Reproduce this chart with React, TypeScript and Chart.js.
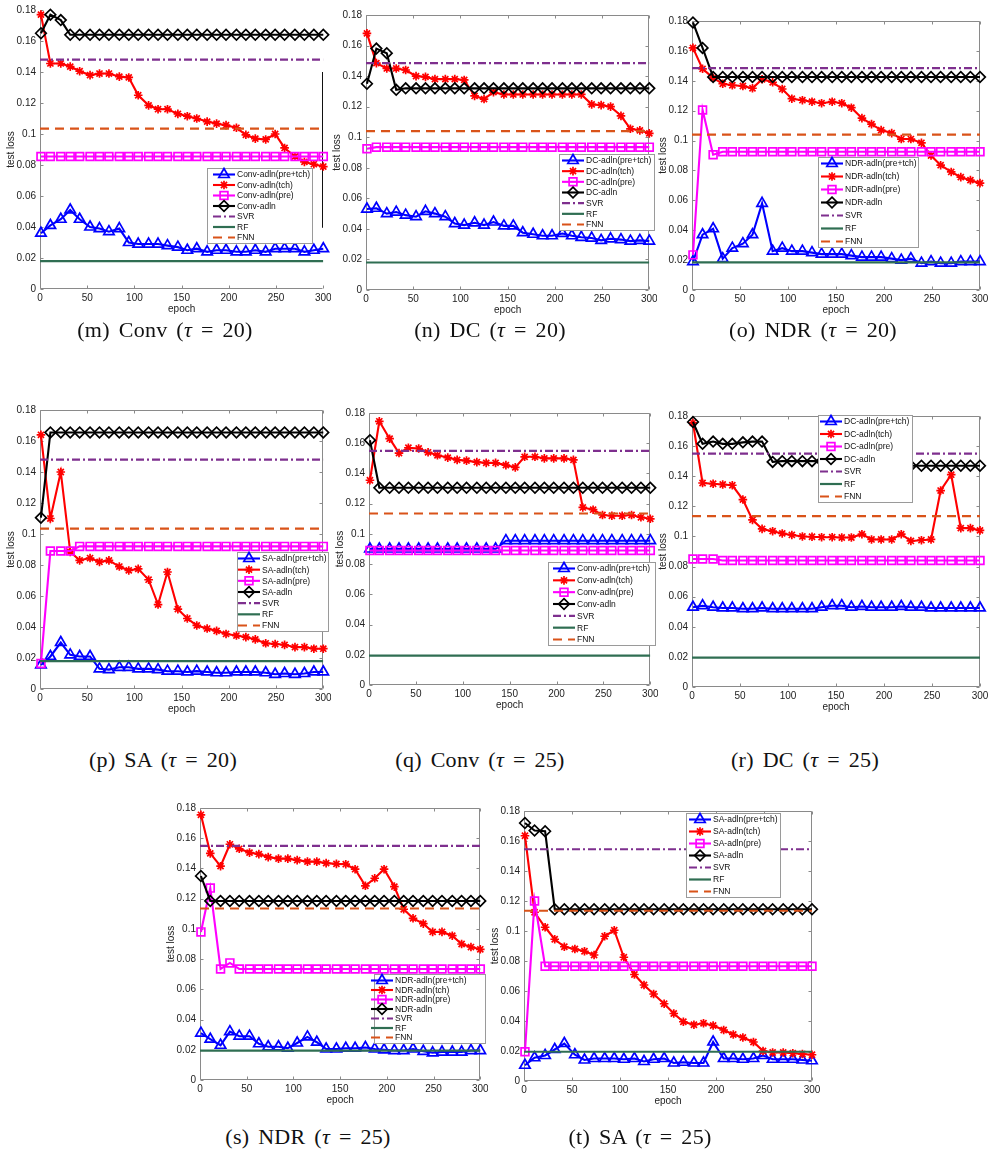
import React, { useEffect, useRef } from "react";
import { Chart, registerables } from "chart.js";
Chart.register(...registerables);

// ---------- shared axes ----------
const epochs = [1, 11, 22, 32, 42, 53, 63, 73, 84, 94, 104, 115, 125, 135, 146, 156, 166, 177, 187, 197, 208, 218, 228, 239, 249, 259, 270, 280, 290, 300];
const xTicks = [0, 50, 100, 150, 200, 250, 300];
const xTickLabels = ["0", "50", "100", "150", "200", "250", "300"];
const yTicks = [0, 0.02, 0.04, 0.06, 0.08, 0.1, 0.12, 0.14, 0.16, 0.18];
const yTickLabels = ["0", "0.02", "0.04", "0.06", "0.08", "0.1", "0.12", "0.14", "0.16", "0.18"];
const seriesSuffix = ["-adln(pre+tch)", "-adln(tch)", "-adln(pre)", "-adln"];
const baseNames = ["SVR", "RF", "FNN"];

// ---------- (m) Conv tau=20 ----------
const mPreTch = [0.036, 0.041, 0.045, 0.051, 0.045, 0.040, 0.039, 0.037, 0.039, 0.030, 0.029, 0.029, 0.029, 0.028, 0.027, 0.025, 0.026, 0.024, 0.025, 0.025, 0.024, 0.024, 0.025, 0.024, 0.026, 0.026, 0.026, 0.024, 0.025, 0.026];
const mTch = [0.177, 0.1455, 0.1455, 0.1435, 0.1405, 0.138, 0.139, 0.139, 0.137, 0.1365, 0.125, 0.1185, 0.116, 0.116, 0.113, 0.1115, 0.110, 0.108, 0.1067, 0.1057, 0.104, 0.0995, 0.097, 0.0965, 0.100, 0.091, 0.0855, 0.082, 0.0805, 0.079];
const mPre = [0.0855, 0.0855, 0.0855, 0.0855, 0.0855, 0.0855, 0.0855, 0.0855, 0.0855, 0.0855, 0.0855, 0.0855, 0.0855, 0.0855, 0.0855, 0.0855, 0.0855, 0.0855, 0.0855, 0.0855, 0.0855, 0.0855, 0.0855, 0.0855, 0.0855, 0.0855, 0.0855, 0.0855, 0.0855, 0.0855];
const mAdln = [0.165, 0.177, 0.1735, 0.164, 0.164, 0.164, 0.164, 0.164, 0.164, 0.164, 0.164, 0.164, 0.164, 0.164, 0.164, 0.164, 0.164, 0.164, 0.164, 0.164, 0.164, 0.164, 0.164, 0.164, 0.164, 0.164, 0.164, 0.164, 0.164, 0.164];
const mBase = [0.148, 0.018, 0.1035];

// ---------- (n) DC tau=20 ----------
const nPreTch = [0.053, 0.0535, 0.050, 0.051, 0.049, 0.048, 0.0515, 0.050, 0.048, 0.0435, 0.0425, 0.044, 0.0425, 0.0445, 0.042, 0.042, 0.0375, 0.0365, 0.0355, 0.0355, 0.037, 0.0355, 0.0345, 0.034, 0.0325, 0.0335, 0.033, 0.032, 0.0325, 0.032];
const nTch = [0.168, 0.1485, 0.145, 0.145, 0.144, 0.140, 0.1395, 0.138, 0.138, 0.138, 0.1375, 0.127, 0.125, 0.1295, 0.128, 0.128, 0.128, 0.128, 0.128, 0.128, 0.128, 0.128, 0.128, 0.1215, 0.121, 0.120, 0.114, 0.1055, 0.1045, 0.1025];
const nPre = [0.0925, 0.0935, 0.0935, 0.0935, 0.0935, 0.0935, 0.0935, 0.0935, 0.0935, 0.0935, 0.0935, 0.0935, 0.0935, 0.0935, 0.0935, 0.0935, 0.0935, 0.0935, 0.0935, 0.0935, 0.0935, 0.0935, 0.0935, 0.0935, 0.0935, 0.0935, 0.0935, 0.0935, 0.0935, 0.0935];
const nAdln = [0.135, 0.158, 0.155, 0.131, 0.132, 0.132, 0.132, 0.132, 0.132, 0.132, 0.132, 0.132, 0.132, 0.132, 0.132, 0.132, 0.132, 0.132, 0.132, 0.132, 0.132, 0.132, 0.132, 0.132, 0.132, 0.132, 0.132, 0.132, 0.132, 0.132];
const nBase = [0.1485, 0.018, 0.104];

// ---------- (o) NDR tau=20 ----------
const oPreTch = [0.019, 0.037, 0.041, 0.021, 0.028, 0.031, 0.037, 0.058, 0.026, 0.028, 0.026, 0.026, 0.025, 0.024, 0.024, 0.024, 0.023, 0.022, 0.022, 0.022, 0.021, 0.020, 0.021, 0.018, 0.019, 0.018, 0.018, 0.019, 0.019, 0.019];
const oTch = [0.162, 0.148, 0.142, 0.138, 0.137, 0.1365, 0.135, 0.141, 0.139, 0.1345, 0.128, 0.127, 0.126, 0.125, 0.126, 0.125, 0.122, 0.115, 0.111, 0.107, 0.105, 0.101, 0.101, 0.0985, 0.090, 0.0835, 0.079, 0.0755, 0.0735, 0.0715];
const oPre = [0.0235, 0.1205, 0.0905, 0.0925, 0.0925, 0.0925, 0.0925, 0.0925, 0.0925, 0.0925, 0.0925, 0.0925, 0.0925, 0.0925, 0.0925, 0.0925, 0.0925, 0.0925, 0.0925, 0.0925, 0.0925, 0.0925, 0.0925, 0.0925, 0.0925, 0.0925, 0.0925, 0.0925, 0.0925, 0.0925];
const oAdln = [0.179, 0.162, 0.1425, 0.1425, 0.1425, 0.1425, 0.1425, 0.1425, 0.1425, 0.1425, 0.1425, 0.1425, 0.1425, 0.1425, 0.1425, 0.1425, 0.1425, 0.1425, 0.1425, 0.1425, 0.1425, 0.1425, 0.1425, 0.1425, 0.1425, 0.1425, 0.1425, 0.1425, 0.1425, 0.1425];
const oBase = [0.1485, 0.0185, 0.104];

// ---------- (p) SA tau=20 ----------
const pPreTch = [0.0155, 0.021, 0.030, 0.022, 0.021, 0.021, 0.013, 0.0125, 0.014, 0.014, 0.013, 0.013, 0.0125, 0.0115, 0.0115, 0.011, 0.0115, 0.011, 0.0105, 0.0105, 0.011, 0.011, 0.011, 0.0105, 0.0095, 0.010, 0.0095, 0.010, 0.011, 0.011];
const pTch = [0.164, 0.110, 0.140, 0.0885, 0.083, 0.0845, 0.082, 0.083, 0.079, 0.0765, 0.0775, 0.0705, 0.0545, 0.0755, 0.0515, 0.0455, 0.041, 0.039, 0.0375, 0.0355, 0.0345, 0.0335, 0.032, 0.0295, 0.029, 0.0285, 0.027, 0.027, 0.026, 0.026];
const pPre = [0.0165, 0.089, 0.089, 0.089, 0.092, 0.092, 0.092, 0.092, 0.092, 0.092, 0.092, 0.092, 0.092, 0.092, 0.092, 0.092, 0.092, 0.092, 0.092, 0.092, 0.092, 0.092, 0.092, 0.092, 0.092, 0.092, 0.092, 0.092, 0.092, 0.092];
const pAdln = [0.1105, 0.1655, 0.1655, 0.1655, 0.1655, 0.1655, 0.1655, 0.1655, 0.1655, 0.1655, 0.1655, 0.1655, 0.1655, 0.1655, 0.1655, 0.1655, 0.1655, 0.1655, 0.1655, 0.1655, 0.1655, 0.1655, 0.1655, 0.1655, 0.1655, 0.1655, 0.1655, 0.1655, 0.1655, 0.1655];
const pBase = [0.148, 0.018, 0.1035];

// ---------- (q) Conv tau=25 ----------
const qPreTch = [0.090, 0.090, 0.090, 0.090, 0.090, 0.090, 0.090, 0.090, 0.090, 0.090, 0.090, 0.090, 0.090, 0.090, 0.0955, 0.0955, 0.0955, 0.0955, 0.0955, 0.0955, 0.0955, 0.0955, 0.0955, 0.0955, 0.0955, 0.0955, 0.0955, 0.0955, 0.0955, 0.0955];
const qTch = [0.1355, 0.1745, 0.163, 0.1535, 0.157, 0.1565, 0.154, 0.152, 0.1505, 0.149, 0.1485, 0.1475, 0.147, 0.147, 0.1455, 0.144, 0.151, 0.151, 0.150, 0.150, 0.150, 0.149, 0.1175, 0.116, 0.1125, 0.112, 0.112, 0.1125, 0.111, 0.110];
const qPre = [0.089, 0.089, 0.089, 0.089, 0.089, 0.089, 0.089, 0.089, 0.089, 0.089, 0.089, 0.089, 0.089, 0.089, 0.089, 0.089, 0.089, 0.089, 0.089, 0.089, 0.089, 0.089, 0.089, 0.089, 0.089, 0.089, 0.089, 0.089, 0.089, 0.089];
const qAdln = [0.162, 0.1305, 0.1305, 0.1305, 0.1305, 0.1305, 0.1305, 0.1305, 0.1305, 0.1305, 0.1305, 0.1305, 0.1305, 0.1305, 0.1305, 0.1305, 0.1305, 0.1305, 0.1305, 0.1305, 0.1305, 0.1305, 0.1305, 0.1305, 0.1305, 0.1305, 0.1305, 0.1305, 0.1305, 0.1305];
const qBase = [0.155, 0.0195, 0.1135];

// ---------- (r) DC tau=25 ----------
const rPreTch = [0.053, 0.054, 0.053, 0.0525, 0.0525, 0.052, 0.052, 0.0525, 0.052, 0.052, 0.052, 0.052, 0.052, 0.053, 0.054, 0.054, 0.053, 0.0535, 0.053, 0.053, 0.053, 0.0535, 0.053, 0.053, 0.0525, 0.0525, 0.0525, 0.0525, 0.0525, 0.0525];
const rTch = [0.1755, 0.1355, 0.135, 0.1345, 0.134, 0.1245, 0.111, 0.105, 0.1035, 0.102, 0.101, 0.100, 0.0998, 0.0995, 0.0995, 0.0993, 0.0993, 0.1015, 0.098, 0.098, 0.098, 0.1015, 0.097, 0.0975, 0.098, 0.1305, 0.141, 0.1055, 0.1055, 0.104];
const rPre = [0.085, 0.085, 0.085, 0.084, 0.084, 0.084, 0.084, 0.084, 0.084, 0.084, 0.084, 0.084, 0.084, 0.084, 0.084, 0.084, 0.084, 0.084, 0.084, 0.084, 0.084, 0.084, 0.084, 0.084, 0.084, 0.084, 0.084, 0.084, 0.084, 0.084];
const rAdln = [0.176, 0.1615, 0.163, 0.1615, 0.1615, 0.1625, 0.163, 0.163, 0.1495, 0.150, 0.150, 0.150, 0.150, 0.150, 0.149, 0.149, 0.149, 0.148, 0.148, 0.148, 0.147, 0.147, 0.147, 0.147, 0.147, 0.147, 0.147, 0.147, 0.147, 0.147];
const rBase = [0.155, 0.0195, 0.1135];

// ---------- (s) NDR tau=25 ----------
const sPreTch = [0.031, 0.027, 0.023, 0.032, 0.029, 0.029, 0.024, 0.022, 0.022, 0.021, 0.0245, 0.0285, 0.025, 0.0205, 0.0205, 0.021, 0.021, 0.0215, 0.0205, 0.020, 0.0195, 0.0195, 0.0205, 0.019, 0.018, 0.0185, 0.0185, 0.0185, 0.0195, 0.0195];
const sTch = [0.1755, 0.150, 0.1415, 0.156, 0.153, 0.1505, 0.1495, 0.1475, 0.1465, 0.1465, 0.1455, 0.1445, 0.1445, 0.1435, 0.143, 0.1428, 0.1395, 0.1285, 0.1335, 0.1395, 0.128, 0.113, 0.107, 0.1035, 0.098, 0.098, 0.0955, 0.090, 0.088, 0.0865];
const sPre = [0.098, 0.127, 0.0735, 0.0775, 0.0735, 0.0735, 0.0735, 0.0735, 0.0735, 0.0735, 0.0735, 0.0735, 0.0735, 0.0735, 0.0735, 0.0735, 0.0735, 0.0735, 0.0735, 0.0735, 0.0735, 0.0735, 0.0735, 0.0735, 0.0735, 0.0735, 0.0735, 0.0735, 0.0735, 0.0735];
const sAdln = [0.135, 0.1185, 0.1185, 0.1185, 0.1185, 0.1185, 0.1185, 0.1185, 0.1185, 0.1185, 0.1185, 0.1185, 0.1185, 0.1185, 0.1185, 0.1185, 0.1185, 0.1185, 0.1185, 0.1185, 0.1185, 0.1185, 0.1185, 0.1185, 0.1185, 0.1185, 0.1185, 0.1185, 0.1185, 0.1185];
const sBase = [0.155, 0.0195, 0.1135];

// ---------- (t) SA tau=25 ----------
const tPreTch = [0.0105, 0.0155, 0.017, 0.021, 0.025, 0.0175, 0.014, 0.015, 0.015, 0.015, 0.0145, 0.015, 0.013, 0.0145, 0.015, 0.012, 0.0125, 0.012, 0.012, 0.026, 0.015, 0.015, 0.0145, 0.015, 0.017, 0.0145, 0.0145, 0.0145, 0.014, 0.0135];
const tTch = [0.1635, 0.1125, 0.1025, 0.0945, 0.0895, 0.088, 0.0865, 0.084, 0.0965, 0.1005, 0.0825, 0.071, 0.064, 0.058, 0.0515, 0.045, 0.0395, 0.0375, 0.0385, 0.037, 0.034, 0.031, 0.029, 0.026, 0.020, 0.019, 0.019, 0.0185, 0.018, 0.0175];
const tPre = [0.0195, 0.120, 0.0765, 0.0765, 0.0765, 0.0765, 0.0765, 0.0765, 0.0765, 0.0765, 0.0765, 0.0765, 0.0765, 0.0765, 0.0765, 0.0765, 0.0765, 0.0765, 0.0765, 0.0765, 0.0765, 0.0765, 0.0765, 0.0765, 0.0765, 0.0765, 0.0765, 0.0765, 0.0765, 0.0765];
const tAdln = [0.172, 0.167, 0.1665, 0.1145, 0.1145, 0.1145, 0.1145, 0.1145, 0.1145, 0.1145, 0.1145, 0.1145, 0.1145, 0.1145, 0.1145, 0.1145, 0.1145, 0.1145, 0.1145, 0.1145, 0.1145, 0.1145, 0.1145, 0.1145, 0.1145, 0.1145, 0.1145, 0.1145, 0.1145, 0.1145];
const tBase = [0.1545, 0.0195, 0.1135];

// ---------- styles ----------
type Sty = { color: string; marker?: string; radius?: number; dash?: number[] };
const seriesStyles: Sty[] = [
  { color: "#0000ff", marker: "triangle", radius: 6 },
  { color: "#ff0000", marker: "star", radius: 4.3 },
  { color: "#ff00ff", marker: "rect", radius: 5.5 },
  { color: "#000000", marker: "rectRot", radius: 5.3 },
];
const baseStyles: Sty[] = [
  { color: "#7e2f8e", dash: [8, 3, 2, 3] },
  { color: "#2f6e52", dash: [] },
  { color: "#d95319", dash: [9, 6] },
];
const TICK_FONT = '10px "Liberation Sans", Arial, Helvetica, sans-serif';
const LEG_FONT = '8.5px "Liberation Sans", Arial, Helvetica, sans-serif';

type Spec = {
  prefix: string;
  series: number[][];
  base: number[];
  area: { l: number; r: number; t: number; b: number };
  padR: number;
  open?: boolean;
  legend: { x: number; y: number; w: number; h: number; textOff: number };
};

const panels: Spec[] = [
  { prefix: "Conv", series: [mPreTch, mTch, mPre, mAdln], base: mBase, area: { l: 40, r: 328, t: 10, b: 289 }, padR: 3, open: true, legend: { x: 207, y: 168, w: 105, h: 75, textOff: 30 } },
  { prefix: "DC", series: [nPreTch, nTch, nPre, nAdln], base: nBase, area: { l: 366, r: 654, t: 15, b: 290 }, padR: 3, legend: { x: 559, y: 154, w: 95, h: 76, textOff: 27 } },
  { prefix: "NDR", series: [oPreTch, oTch, oPre, oAdln], base: oBase, area: { l: 692, r: 980, t: 21, b: 290 }, padR: 8, legend: { x: 818, y: 157, w: 100, h: 90, textOff: 27 } },
  { prefix: "SA", series: [pPreTch, pTch, pPre, pAdln], base: pBase, area: { l: 40, r: 328, t: 410, b: 689 }, padR: 3, legend: { x: 237, y: 552, w: 91, h: 79, textOff: 25 } },
  { prefix: "Conv", series: [qPreTch, qTch, qPre, qAdln], base: qBase, area: { l: 369, r: 655, t: 413, b: 685 }, padR: 3, legend: { x: 548, y: 562, w: 107, h: 83, textOff: 29 } },
  { prefix: "DC", series: [rPreTch, rTch, rPre, rAdln], base: rBase, area: { l: 692, r: 980, t: 416, b: 687 }, padR: 8, legend: { x: 818, y: 415, w: 94, h: 87, textOff: 26 } },
  { prefix: "NDR", series: [sPreTch, sTch, sPre, sAdln], base: sBase, area: { l: 200, r: 485, t: 808, b: 1080 }, padR: 3, legend: { x: 374, y: 974, w: 111, h: 69, textOff: 21 } },
  { prefix: "SA", series: [tPreTch, tTch, tPre, tAdln], base: tBase, area: { l: 524, r: 812, t: 811, b: 1081 }, padR: 8, legend: { x: 686, y: 813, w: 94, h: 84, textOff: 27 } },
];

const captions = [
  { x: 165, y: 330, head: "(m) Conv (", tau: "20" },
  { x: 490, y: 330, head: "(n) DC (", tau: "20" },
  { x: 813, y: 330, head: "(o) NDR (", tau: "20" },
  { x: 163, y: 760, head: "(p) SA (", tau: "20" },
  { x: 480, y: 760, head: "(q) Conv (", tau: "25" },
  { x: 805, y: 760, head: "(r) DC (", tau: "25" },
  { x: 308, y: 1137, head: "(s) NDR (", tau: "25" },
  { x: 640, y: 1137, head: "(t) SA (", tau: "25" },
];

const PAD_L = 42, PAD_T = 12, PAD_B = 32;

function drawMarker(ctx: CanvasRenderingContext2D, style: string, x: number, y: number, r: number) {
  ctx.beginPath();
  if (style === "triangle") {
    for (let k = 0; k < 3; k++) {
      const a = (k * 2 * Math.PI) / 3;
      const px = x + Math.sin(a) * r, py = y - Math.cos(a) * r;
      if (k === 0) ctx.moveTo(px, py); else ctx.lineTo(px, py);
    }
    ctx.closePath();
  } else if (style === "rect") {
    const s = r * Math.SQRT1_2;
    ctx.rect(x - s, y - s, 2 * s, 2 * s);
  } else if (style === "rectRot") {
    ctx.moveTo(x, y - r); ctx.lineTo(x + r, y); ctx.lineTo(x, y + r); ctx.lineTo(x - r, y); ctx.closePath();
  } else if (style === "star") {
    const d = r * Math.SQRT1_2;
    ctx.moveTo(x - r, y); ctx.lineTo(x + r, y);
    ctx.moveTo(x, y - r); ctx.lineTo(x, y + r);
    ctx.moveTo(x - d, y - d); ctx.lineTo(x + d, y + d);
    ctx.moveTo(x - d, y + d); ctx.lineTo(x + d, y - d);
  }
  ctx.stroke();
}

function Panel({ spec }: { spec: Spec }) {
  const ref = useRef<HTMLCanvasElement | null>(null);
  const cl = spec.area.l - PAD_L;
  const ct = spec.area.t - PAD_T;
  const cw = spec.area.r + spec.padR - cl;
  const ch = spec.area.b + PAD_B - ct;

  useEffect(() => {
    if (!ref.current) return;
    const labels = [...seriesSuffix.map((s) => spec.prefix + s), ...baseNames];
    const datasets: any[] = [];
    spec.series.forEach((vals, k) => {
      const st = seriesStyles[k];
      datasets.push({
        label: labels[k],
        data: epochs.map((e, i) => ({ x: e, y: vals[i] })),
        borderColor: st.color,
        borderWidth: 2.1,
        pointStyle: st.marker,
        pointRadius: st.radius,
        pointBorderWidth: 1.7,
        pointBorderColor: st.color,
        pointBackgroundColor: "rgba(0,0,0,0)",
        fill: false,
        tension: 0,
        clip: false,
        order: 10 - k,
      });
    });
    spec.base.forEach((v, j) => {
      const st = baseStyles[j];
      datasets.push({
        label: labels[4 + j],
        data: [{ x: 0, y: v }, { x: 300, y: v }],
        borderColor: st.color,
        borderWidth: 2.2,
        borderDash: st.dash,
        pointRadius: 0,
        fill: false,
        tension: 0,
        order: 6 - j,
      });
    });

    const decor = {
      id: "decor",
      beforeDatasetsDraw(chart: any) {
        const { ctx, chartArea: a, scales } = chart;
        const xs = scales.x, ys = scales.y;
        const L = Math.round(a.left) + 0.5, R = Math.round(a.right) - 0.5;
        const T = Math.round(a.top) + 0.5, B = Math.round(a.bottom) - 0.5;
        ctx.save();
        ctx.strokeStyle = "#8a8a8a";
        ctx.lineWidth = 1;
        ctx.beginPath();
        ctx.moveTo(L, T); ctx.lineTo(L, B); ctx.lineTo(R, B);
        if (!spec.open) { ctx.lineTo(R, T); ctx.lineTo(L, T); }
        ctx.stroke();
        // ticks
        ctx.beginPath();
        xTicks.forEach((v) => {
          const px = Math.round(xs.getPixelForValue(v)) + 0.5;
          ctx.moveTo(px, B); ctx.lineTo(px, B - 3);
          if (!spec.open) { ctx.moveTo(px, T); ctx.lineTo(px, T + 3); }
        });
        yTicks.forEach((v) => {
          const py = Math.round(ys.getPixelForValue(v)) + 0.5;
          ctx.moveTo(L, py); ctx.lineTo(L + 3, py);
          if (!spec.open) { ctx.moveTo(R, py); ctx.lineTo(R - 3, py); }
        });
        ctx.stroke();
        if (spec.open) {
          ctx.strokeStyle = "#111";
          ctx.beginPath();
          ctx.moveTo(R, ys.getPixelForValue(0.14));
          ctx.lineTo(R, ys.getPixelForValue(0.0395));
          ctx.stroke();
        }
        // labels
        ctx.fillStyle = "#222";
        ctx.font = TICK_FONT;
        ctx.textAlign = "center";
        ctx.textBaseline = "top";
        xTicks.forEach((v, i) => ctx.fillText(xTickLabels[i], xs.getPixelForValue(v), a.bottom + 4));
        ctx.textAlign = "right";
        ctx.textBaseline = "middle";
        yTicks.forEach((v, i) => ctx.fillText(yTickLabels[i], a.left - 4, ys.getPixelForValue(v)));
        ctx.textAlign = "center";
        ctx.textBaseline = "middle";
        ctx.fillText("epoch", (a.left + a.right) / 2, a.bottom + 20);
        ctx.save();
        ctx.translate(a.left - 29, (a.top + a.bottom) / 2);
        ctx.rotate(-Math.PI / 2);
        ctx.fillText("test loss", 0, 0);
        ctx.restore();
        ctx.restore();
      },
      afterDatasetsDraw(chart: any) {
        const { ctx } = chart;
        const lg = spec.legend;
        const x = lg.x - cl, y = lg.y - ct;
        ctx.save();
        ctx.fillStyle = "#fff";
        ctx.fillRect(x, y, lg.w, lg.h);
        ctx.strokeStyle = "#9a9a9a";
        ctx.lineWidth = 1;
        ctx.strokeRect(Math.round(x) + 0.5, Math.round(y) + 0.5, Math.round(lg.w), Math.round(lg.h));
        const step = (lg.h - 12) / 6;
        ctx.font = LEG_FONT;
        ctx.textAlign = "left";
        ctx.textBaseline = "middle";
        const tx = x + lg.textOff;
        for (let i = 0; i < 7; i++) {
          const cy = y + 6.5 + i * step;
          const st = i < 4 ? seriesStyles[i] : baseStyles[i - 4];
          ctx.strokeStyle = st.color;
          ctx.lineWidth = i < 4 ? 2.1 : 2.2;
          ctx.setLineDash(i < 4 ? [] : (st.dash || []));
          ctx.beginPath();
          ctx.moveTo(tx - 24, cy); ctx.lineTo(tx - 2, cy);
          ctx.stroke();
          ctx.setLineDash([]);
          if (st.marker) {
            ctx.lineWidth = 1.7;
            drawMarker(ctx, st.marker, tx - 13, cy, st.radius || 4);
          }
          ctx.fillStyle = "#111";
          ctx.fillText(labels[i], tx, cy + 0.5);
        }
        ctx.restore();
      },
    };

    const chart = new Chart(ref.current, {
      type: "line",
      data: { datasets },
      options: {
        animation: false,
        responsive: false,
        events: [],
        layout: { padding: { left: PAD_L, right: spec.padR, top: PAD_T, bottom: PAD_B } },
        scales: {
          x: { type: "linear", min: 0, max: 300, display: false },
          y: { type: "linear", min: 0, max: 0.18, display: false },
        },
        plugins: { legend: { display: false }, tooltip: { enabled: false } },
      },
      plugins: [decor],
    } as any);
    return () => chart.destroy();
  }, []);

  return (
    <canvas
      ref={ref}
      width={cw}
      height={ch}
      style={{ position: "absolute", left: cl, top: ct, width: cw, height: ch }}
    />
  );
}

export default function App() {
  return (
    <div style={{ position: "absolute", left: 0, top: 0, width: 988, height: 1170, background: "#fff", overflow: "hidden" }}>
      {panels.map((p, i) => (
        <Panel key={i} spec={p} />
      ))}
      {captions.map((c, i) => (
        <div
          key={"c" + i}
          style={{
            position: "absolute",
            left: c.x - 150,
            width: 300,
            top: c.y - 14,
            height: 28,
            lineHeight: "28px",
            textAlign: "center",
            fontFamily: '"Liberation Serif", "Times New Roman", serif',
            fontSize: 22,
            letterSpacing: 0.3,
            wordSpacing: 3,
            color: "#111",
          }}
        >
          {c.head}
          <i>τ</i> = {c.tau})
        </div>
      ))}
    </div>
  );
}
